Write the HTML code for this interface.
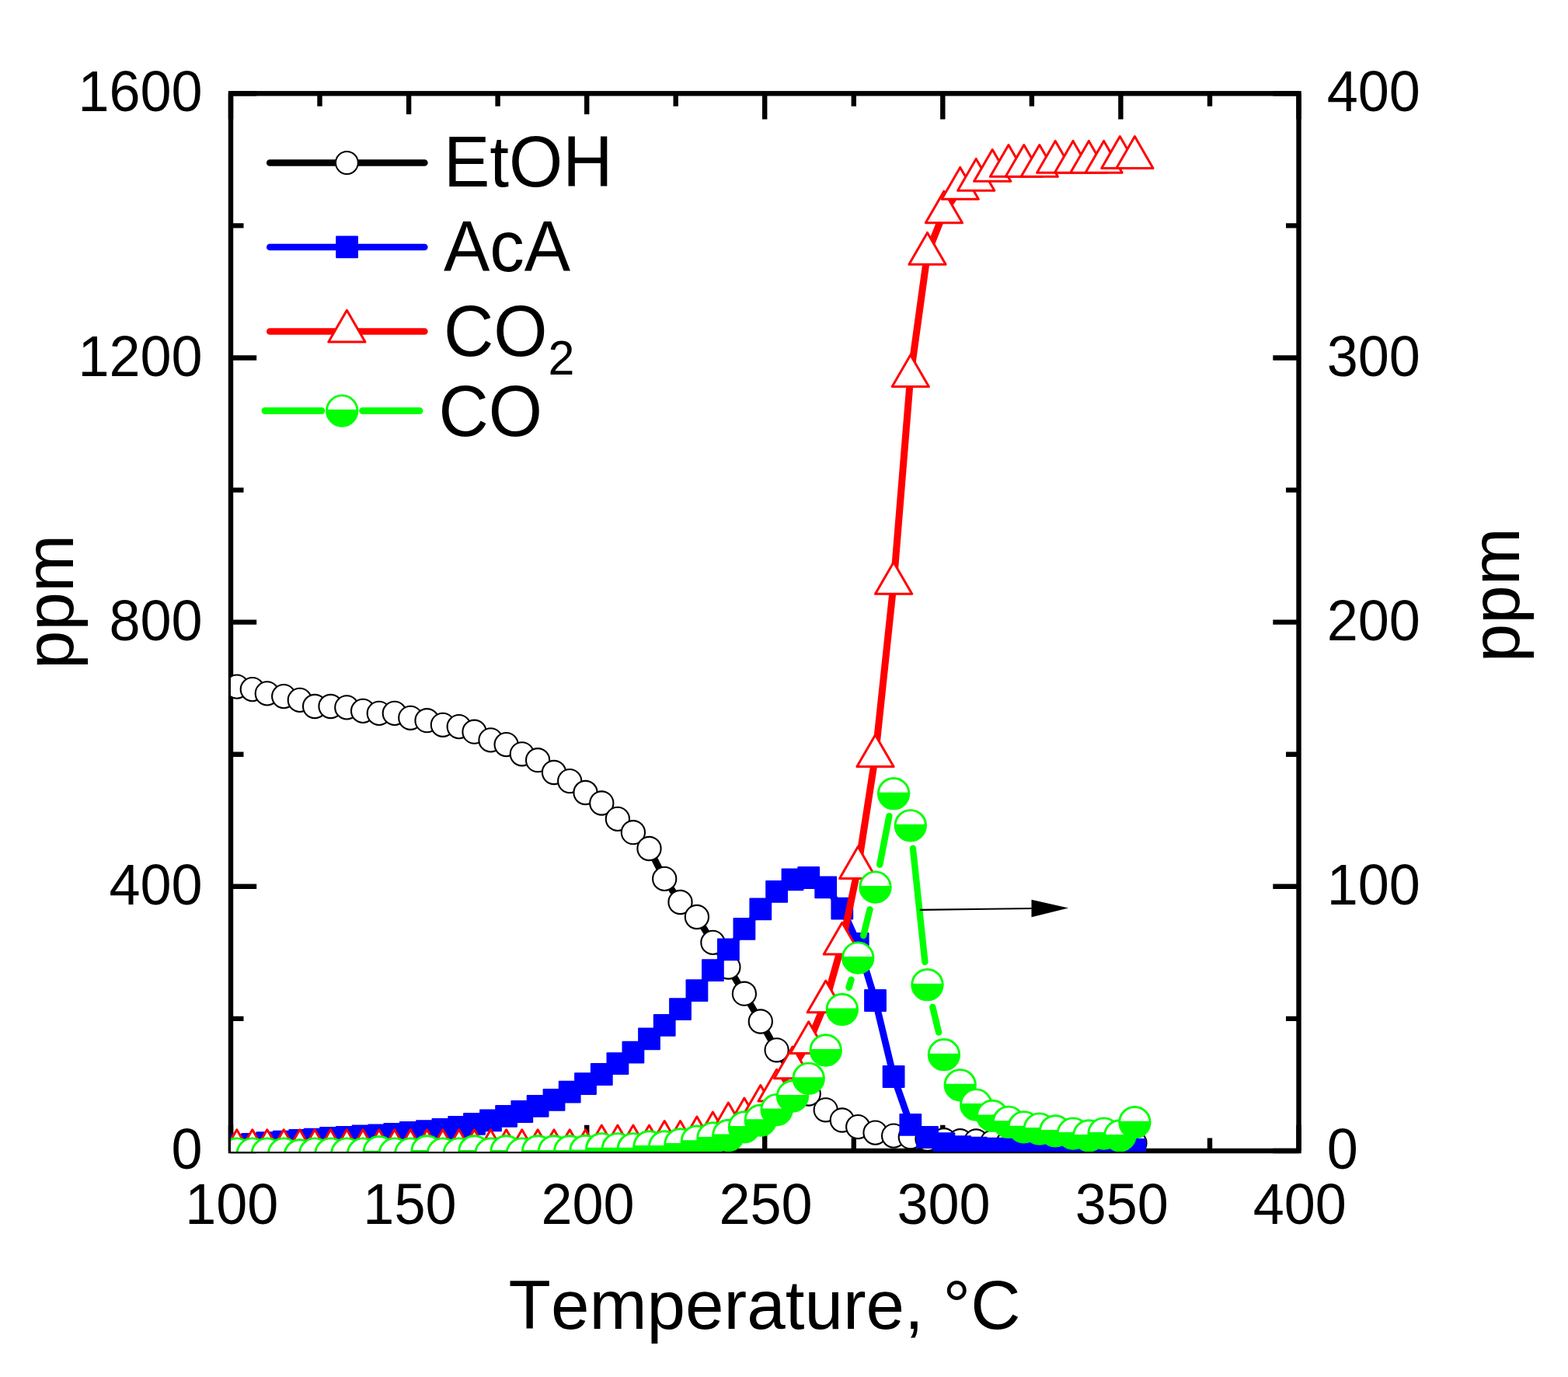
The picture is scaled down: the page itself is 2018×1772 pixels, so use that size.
<!DOCTYPE html>
<html lang="en"><head><meta charset="utf-8"><title>Temperature profile</title>
<style>html,body{margin:0;padding:0;background:#fff}body{width:2018px;height:1772px;overflow:hidden}svg{display:block}text{font-family:"Liberation Sans",sans-serif;fill:#000;font-kerning:none;font-variant-ligatures:none}</style>
</head><body>
<svg width="2018" height="1772" viewBox="0 0 2018 1772">
<rect x="0" y="0" width="2018" height="1772" fill="#fff"/>
<defs><clipPath id="plot"><rect x="297" y="117" width="1374.5" height="1365"/></clipPath></defs>
<g stroke="#000" stroke-width="6.4" fill="none" stroke-linecap="butt">
<rect x="297" y="120.3" width="1374.5" height="1360.7"/>
<path d="M297 120.3v33.2M297 1481v-33.2M411.5 120.3v16.5M411.5 1481v-16.5M526.1 120.3v33.2M526.1 1481v-33.2M640.6 120.3v16.5M640.6 1481v-16.5M755.2 120.3v33.2M755.2 1481v-33.2M869.7 120.3v16.5M869.7 1481v-16.5M984.2 120.3v33.2M984.2 1481v-33.2M1098.8 120.3v16.5M1098.8 1481v-16.5M1213.3 120.3v33.2M1213.3 1481v-33.2M1327.9 120.3v16.5M1327.9 1481v-16.5M1442.4 120.3v33.2M1442.4 1481v-33.2M1557 120.3v16.5M1557 1481v-16.5M1671.5 120.3v33.2M1671.5 1481v-33.2M297 1481h33.2M1671.5 1481h-33.2M297 1310.9h16.5M1671.5 1310.9h-16.5M297 1140.8h33.2M1671.5 1140.8h-33.2M297 970.7h16.5M1671.5 970.7h-16.5M297 800.6h33.2M1671.5 800.6h-33.2M297 630.6h16.5M1671.5 630.6h-16.5M297 460.5h33.2M1671.5 460.5h-33.2M297 290.4h16.5M1671.5 290.4h-16.5M297 120.3h33.2M1671.5 120.3h-33.2"/>
</g>
<g font-size="72.0">
<text transform="translate(298.3 1575.4) scale(1 1.04)" text-anchor="middle">100</text>
<text transform="translate(527.4 1575.4) scale(1 1.04)" text-anchor="middle">150</text>
<text transform="translate(756.5 1575.4) scale(1 1.04)" text-anchor="middle">200</text>
<text transform="translate(985.5 1575.4) scale(1 1.04)" text-anchor="middle">250</text>
<text transform="translate(1214.6 1575.4) scale(1 1.04)" text-anchor="middle">300</text>
<text transform="translate(1443.7 1575.4) scale(1 1.04)" text-anchor="middle">350</text>
<text transform="translate(1672.8 1575.4) scale(1 1.04)" text-anchor="middle">400</text>
<text transform="translate(260.6 1504) scale(1 1.04)" text-anchor="end">0</text>
<text transform="translate(260.6 1163.8) scale(1 1.04)" text-anchor="end">400</text>
<text transform="translate(260.6 823.6) scale(1 1.04)" text-anchor="end">800</text>
<text transform="translate(260.6 483.5) scale(1 1.04)" text-anchor="end">1200</text>
<text transform="translate(260.6 143.3) scale(1 1.04)" text-anchor="end">1600</text>
<text transform="translate(1707.8 1504) scale(1 1.04)" text-anchor="start">0</text>
<text transform="translate(1707.8 1163.8) scale(1 1.04)" text-anchor="start">100</text>
<text transform="translate(1707.8 823.6) scale(1 1.04)" text-anchor="start">200</text>
<text transform="translate(1707.8 483.5) scale(1 1.04)" text-anchor="start">300</text>
<text transform="translate(1707.8 143.3) scale(1 1.04)" text-anchor="start">400</text>
</g>
<g font-size="89.0">
<text x="984" y="1710.2" text-anchor="middle">Temperature, °C</text>
<text transform="translate(94.1 774.5) rotate(-90)" text-anchor="middle">ppm</text>
<text transform="translate(1955 765.7) rotate(-90)" text-anchor="middle">ppm</text>
</g>
<g clip-path="url(#plot)">
<polyline points="304.8,883.6 324.8,887.1 343.8,892.4 365.2,896.1 385.8,900.9 405.1,909 425.5,909 446.3,910.4 467.1,914.9 487.8,917.9 507.8,917.9 528.3,923.8 549.5,927.2 569.9,932.8 590.7,935.1 610.5,941.7 631.5,952.4 651.6,958.1 671.8,970.3 692.1,978.2 713,994 733.2,1005.1 753.5,1020 774.3,1033.5 794.9,1053.9 814.9,1071.2 835.5,1092 855.2,1130.9 875.5,1161 896.9,1180 917.4,1212.9 937.4,1244.5 957.9,1278.7 978.8,1314.5 999.6,1351.3 1020,1383 1040.7,1407.5 1062.7,1428.3 1083.8,1441.5 1104.2,1450.1 1126.5,1457.6 1150.1,1461.6 1171.8,1463.2 1193.5,1465.8 1214.9,1467.2 1235.7,1468.2 1256.2,1468.5 1277.2,1469.5 1298,1470 1317.8,1470 1337.8,1470.5 1358.2,1470.5 1381,1471 1401.3,1471 1420.6,1471 1441.3,1471 1460.4,1471" fill="none" stroke="#000" stroke-width="8.6" stroke-linejoin="round"/>
<g fill="#fff" stroke="#000" stroke-width="2.1">
<circle cx="304.8" cy="883.6" r="15.1"/>
<circle cx="324.8" cy="887.1" r="15.1"/>
<circle cx="343.8" cy="892.4" r="15.1"/>
<circle cx="365.2" cy="896.1" r="15.1"/>
<circle cx="385.8" cy="900.9" r="15.1"/>
<circle cx="405.1" cy="909" r="15.1"/>
<circle cx="425.5" cy="909" r="15.1"/>
<circle cx="446.3" cy="910.4" r="15.1"/>
<circle cx="467.1" cy="914.9" r="15.1"/>
<circle cx="487.8" cy="917.9" r="15.1"/>
<circle cx="507.8" cy="917.9" r="15.1"/>
<circle cx="528.3" cy="923.8" r="15.1"/>
<circle cx="549.5" cy="927.2" r="15.1"/>
<circle cx="569.9" cy="932.8" r="15.1"/>
<circle cx="590.7" cy="935.1" r="15.1"/>
<circle cx="610.5" cy="941.7" r="15.1"/>
<circle cx="631.5" cy="952.4" r="15.1"/>
<circle cx="651.6" cy="958.1" r="15.1"/>
<circle cx="671.8" cy="970.3" r="15.1"/>
<circle cx="692.1" cy="978.2" r="15.1"/>
<circle cx="713" cy="994" r="15.1"/>
<circle cx="733.2" cy="1005.1" r="15.1"/>
<circle cx="753.5" cy="1020" r="15.1"/>
<circle cx="774.3" cy="1033.5" r="15.1"/>
<circle cx="794.9" cy="1053.9" r="15.1"/>
<circle cx="814.9" cy="1071.2" r="15.1"/>
<circle cx="835.5" cy="1092" r="15.1"/>
<circle cx="855.2" cy="1130.9" r="15.1"/>
<circle cx="875.5" cy="1161" r="15.1"/>
<circle cx="896.9" cy="1180" r="15.1"/>
<circle cx="917.4" cy="1212.9" r="15.1"/>
<circle cx="937.4" cy="1244.5" r="15.1"/>
<circle cx="957.9" cy="1278.7" r="15.1"/>
<circle cx="978.8" cy="1314.5" r="15.1"/>
<circle cx="999.6" cy="1351.3" r="15.1"/>
<circle cx="1020" cy="1383" r="15.1"/>
<circle cx="1040.7" cy="1407.5" r="15.1"/>
<circle cx="1062.7" cy="1428.3" r="15.1"/>
<circle cx="1083.8" cy="1441.5" r="15.1"/>
<circle cx="1104.2" cy="1450.1" r="15.1"/>
<circle cx="1126.5" cy="1457.6" r="15.1"/>
<circle cx="1150.1" cy="1461.6" r="15.1"/>
<circle cx="1171.8" cy="1463.2" r="15.1"/>
<circle cx="1193.5" cy="1465.8" r="15.1"/>
<circle cx="1214.9" cy="1467.2" r="15.1"/>
<circle cx="1235.7" cy="1468.2" r="15.1"/>
<circle cx="1256.2" cy="1468.5" r="15.1"/>
<circle cx="1277.2" cy="1469.5" r="15.1"/>
<circle cx="1298" cy="1470" r="15.1"/>
<circle cx="1317.8" cy="1470" r="15.1"/>
<circle cx="1337.8" cy="1470.5" r="15.1"/>
<circle cx="1358.2" cy="1470.5" r="15.1"/>
<circle cx="1381" cy="1471" r="15.1"/>
<circle cx="1401.3" cy="1471" r="15.1"/>
<circle cx="1420.6" cy="1471" r="15.1"/>
<circle cx="1441.3" cy="1471" r="15.1"/>
<circle cx="1460.4" cy="1471" r="15.1"/>
</g>
<polyline points="304.8,1473.5 324.8,1472.3 343.8,1470.7 365.2,1469.1 385.8,1467.3 405.1,1466.1 425.5,1464.4 446.3,1463.4 467.1,1462 487.8,1460.8 507.8,1459.4 528.3,1457.5 549.5,1455.7 569.9,1453.4 590.7,1450.5 610.5,1446.3 631.5,1441.8 651.6,1436.3 671.8,1430.5 692.1,1423.4 713,1415.3 733.2,1405.2 753.5,1394.6 774.3,1382.5 794.9,1368.7 814.9,1354.2 835.5,1336.9 855.2,1319.4 875.5,1298.6 896.9,1274.6 917.4,1248.6 937.4,1221.9 957.9,1195.3 978.8,1169.8 999.6,1147.3 1020,1131.8 1040.7,1129.5 1062.7,1141.8 1083.8,1169.1 1104.2,1214.5 1126.5,1287.5 1150.1,1385.5 1171.8,1447.4 1193.5,1463.5 1214.9,1471.7 1235.7,1475.7 1256.2,1477.2 1277.2,1478.2 1298,1478.7 1317.8,1478.7 1337.8,1478.7 1358.2,1478.7 1381,1478.8 1401.3,1478.8 1420.6,1478.9 1441.3,1479 1460.4,1479.4" fill="none" stroke="#00f" stroke-width="8.8" stroke-linejoin="round"/>
<g fill="#00f">
<rect x="290.4" y="1459.1" width="28.8" height="28.8" rx="1"/>
<rect x="310.4" y="1457.9" width="28.8" height="28.8" rx="1"/>
<rect x="329.4" y="1456.3" width="28.8" height="28.8" rx="1"/>
<rect x="350.8" y="1454.7" width="28.8" height="28.8" rx="1"/>
<rect x="371.4" y="1452.9" width="28.8" height="28.8" rx="1"/>
<rect x="390.7" y="1451.7" width="28.8" height="28.8" rx="1"/>
<rect x="411.1" y="1450" width="28.8" height="28.8" rx="1"/>
<rect x="431.9" y="1449" width="28.8" height="28.8" rx="1"/>
<rect x="452.7" y="1447.6" width="28.8" height="28.8" rx="1"/>
<rect x="473.4" y="1446.4" width="28.8" height="28.8" rx="1"/>
<rect x="493.4" y="1445" width="28.8" height="28.8" rx="1"/>
<rect x="513.9" y="1443.1" width="28.8" height="28.8" rx="1"/>
<rect x="535.1" y="1441.3" width="28.8" height="28.8" rx="1"/>
<rect x="555.5" y="1439" width="28.8" height="28.8" rx="1"/>
<rect x="576.3" y="1436.1" width="28.8" height="28.8" rx="1"/>
<rect x="596.1" y="1431.9" width="28.8" height="28.8" rx="1"/>
<rect x="617.1" y="1427.4" width="28.8" height="28.8" rx="1"/>
<rect x="637.2" y="1421.9" width="28.8" height="28.8" rx="1"/>
<rect x="657.4" y="1416.1" width="28.8" height="28.8" rx="1"/>
<rect x="677.7" y="1409" width="28.8" height="28.8" rx="1"/>
<rect x="698.6" y="1400.9" width="28.8" height="28.8" rx="1"/>
<rect x="718.8" y="1390.8" width="28.8" height="28.8" rx="1"/>
<rect x="739.1" y="1380.2" width="28.8" height="28.8" rx="1"/>
<rect x="759.9" y="1368.1" width="28.8" height="28.8" rx="1"/>
<rect x="780.5" y="1354.3" width="28.8" height="28.8" rx="1"/>
<rect x="800.5" y="1339.8" width="28.8" height="28.8" rx="1"/>
<rect x="821.1" y="1322.5" width="28.8" height="28.8" rx="1"/>
<rect x="840.8" y="1305" width="28.8" height="28.8" rx="1"/>
<rect x="861.1" y="1284.2" width="28.8" height="28.8" rx="1"/>
<rect x="882.5" y="1260.2" width="28.8" height="28.8" rx="1"/>
<rect x="903" y="1234.2" width="28.8" height="28.8" rx="1"/>
<rect x="923" y="1207.5" width="28.8" height="28.8" rx="1"/>
<rect x="943.5" y="1180.9" width="28.8" height="28.8" rx="1"/>
<rect x="964.4" y="1155.4" width="28.8" height="28.8" rx="1"/>
<rect x="985.2" y="1132.9" width="28.8" height="28.8" rx="1"/>
<rect x="1005.6" y="1117.4" width="28.8" height="28.8" rx="1"/>
<rect x="1026.3" y="1115.1" width="28.8" height="28.8" rx="1"/>
<rect x="1048.3" y="1127.4" width="28.8" height="28.8" rx="1"/>
<rect x="1069.4" y="1154.7" width="28.8" height="28.8" rx="1"/>
<rect x="1089.8" y="1200.1" width="28.8" height="28.8" rx="1"/>
<rect x="1112.1" y="1273.1" width="28.8" height="28.8" rx="1"/>
<rect x="1135.7" y="1371.1" width="28.8" height="28.8" rx="1"/>
<rect x="1157.4" y="1433" width="28.8" height="28.8" rx="1"/>
<rect x="1179.1" y="1449.1" width="28.8" height="28.8" rx="1"/>
<rect x="1200.5" y="1457.3" width="28.8" height="28.8" rx="1"/>
<rect x="1221.3" y="1461.3" width="28.8" height="28.8" rx="1"/>
<rect x="1241.8" y="1462.8" width="28.8" height="28.8" rx="1"/>
<rect x="1262.8" y="1463.8" width="28.8" height="28.8" rx="1"/>
<rect x="1283.6" y="1464.3" width="28.8" height="28.8" rx="1"/>
<rect x="1303.4" y="1464.3" width="28.8" height="28.8" rx="1"/>
<rect x="1323.4" y="1464.3" width="28.8" height="28.8" rx="1"/>
<rect x="1343.8" y="1464.3" width="28.8" height="28.8" rx="1"/>
<rect x="1366.6" y="1464.4" width="28.8" height="28.8" rx="1"/>
<rect x="1386.9" y="1464.4" width="28.8" height="28.8" rx="1"/>
<rect x="1406.2" y="1464.5" width="28.8" height="28.8" rx="1"/>
<rect x="1426.9" y="1464.6" width="28.8" height="28.8" rx="1"/>
<rect x="1446" y="1465" width="28.8" height="28.8" rx="1"/>
</g>
<polyline points="304.8,1481 324.8,1481 343.8,1481 365.2,1481 385.8,1481 405.1,1481 425.5,1481 446.3,1481 467.1,1481 487.8,1481 507.8,1481 528.3,1481 549.5,1481 569.9,1481 590.7,1481 610.5,1481 631.5,1481 651.6,1481 671.8,1481 692.1,1481 713,1481 733.2,1481 753.5,1481 774.3,1475.2 794.9,1475.2 814.9,1475.2 835.5,1475.2 855.2,1469.7 875.5,1469.7 896.9,1464.3 917.4,1458.3 937.4,1446.3 957.9,1440.3 978.8,1423.7 999.6,1403.4 1020,1374.2 1040.7,1342 1062.7,1289.2 1083.8,1214.5 1104.2,1116.8 1126.5,973 1150.1,750.7 1171.8,484 1193.5,326.6 1214.9,273.2 1235.7,242.6 1256.2,231.6 1277.2,219.7 1298,213.7 1317.8,213.7 1337.8,213.7 1358.2,208.6 1381,208.6 1401.3,208.6 1420.6,208.6 1441.3,202.8 1460.4,202.8" fill="none" stroke="#f00" stroke-width="9" stroke-linejoin="round"/>
<g fill="#fff" stroke="#f00" stroke-width="3" stroke-linejoin="round">
<path d="M304.8 1453.8L328.4 1494.6L281.2 1494.6Z"/>
<path d="M324.8 1453.8L348.4 1494.6L301.2 1494.6Z"/>
<path d="M343.8 1453.8L367.4 1494.6L320.2 1494.6Z"/>
<path d="M365.2 1453.8L388.8 1494.6L341.6 1494.6Z"/>
<path d="M385.8 1453.8L409.4 1494.6L362.2 1494.6Z"/>
<path d="M405.1 1453.8L428.7 1494.6L381.5 1494.6Z"/>
<path d="M425.5 1453.8L449.1 1494.6L401.9 1494.6Z"/>
<path d="M446.3 1453.8L469.9 1494.6L422.7 1494.6Z"/>
<path d="M467.1 1453.8L490.7 1494.6L443.5 1494.6Z"/>
<path d="M487.8 1453.8L511.4 1494.6L464.2 1494.6Z"/>
<path d="M507.8 1453.8L531.4 1494.6L484.2 1494.6Z"/>
<path d="M528.3 1453.8L551.9 1494.6L504.7 1494.6Z"/>
<path d="M549.5 1453.8L573.1 1494.6L525.9 1494.6Z"/>
<path d="M569.9 1453.8L593.5 1494.6L546.3 1494.6Z"/>
<path d="M590.7 1453.8L614.3 1494.6L567.1 1494.6Z"/>
<path d="M610.5 1453.8L634.1 1494.6L586.9 1494.6Z"/>
<path d="M631.5 1453.8L655.1 1494.6L607.9 1494.6Z"/>
<path d="M651.6 1453.8L675.2 1494.6L628 1494.6Z"/>
<path d="M671.8 1453.8L695.4 1494.6L648.2 1494.6Z"/>
<path d="M692.1 1453.8L715.7 1494.6L668.5 1494.6Z"/>
<path d="M713 1453.8L736.6 1494.6L689.4 1494.6Z"/>
<path d="M733.2 1453.8L756.8 1494.6L709.6 1494.6Z"/>
<path d="M753.5 1453.8L777.1 1494.6L729.9 1494.6Z"/>
<path d="M774.3 1448L797.9 1488.8L750.7 1488.8Z"/>
<path d="M794.9 1448L818.5 1488.8L771.3 1488.8Z"/>
<path d="M814.9 1448L838.5 1488.8L791.3 1488.8Z"/>
<path d="M835.5 1448L859.1 1488.8L811.9 1488.8Z"/>
<path d="M855.2 1442.5L878.8 1483.3L831.6 1483.3Z"/>
<path d="M875.5 1442.5L899.1 1483.3L851.9 1483.3Z"/>
<path d="M896.9 1437.1L920.5 1477.9L873.3 1477.9Z"/>
<path d="M917.4 1431.1L941 1471.9L893.8 1471.9Z"/>
<path d="M937.4 1419.1L961 1459.9L913.8 1459.9Z"/>
<path d="M957.9 1413.1L981.5 1453.9L934.3 1453.9Z"/>
<path d="M978.8 1396.5L1002.4 1437.3L955.2 1437.3Z"/>
<path d="M999.6 1376.2L1023.2 1417L976 1417Z"/>
<path d="M1020 1347L1043.6 1387.8L996.4 1387.8Z"/>
<path d="M1040.7 1314.8L1064.3 1355.6L1017.1 1355.6Z"/>
<path d="M1062.7 1262L1086.3 1302.8L1039.1 1302.8Z"/>
<path d="M1083.8 1187.3L1107.4 1228.1L1060.2 1228.1Z"/>
<path d="M1104.2 1089.6L1127.8 1130.4L1080.6 1130.4Z"/>
<path d="M1126.5 945.8L1150.1 986.6L1102.9 986.6Z"/>
<path d="M1150.1 723.5L1173.7 764.3L1126.5 764.3Z"/>
<path d="M1171.8 456.8L1195.4 497.6L1148.2 497.6Z"/>
<path d="M1193.5 299.4L1217.1 340.2L1169.9 340.2Z"/>
<path d="M1214.9 246L1238.5 286.8L1191.3 286.8Z"/>
<path d="M1235.7 215.4L1259.3 256.2L1212.1 256.2Z"/>
<path d="M1256.2 204.4L1279.8 245.2L1232.6 245.2Z"/>
<path d="M1277.2 192.5L1300.8 233.3L1253.6 233.3Z"/>
<path d="M1298 186.5L1321.6 227.3L1274.4 227.3Z"/>
<path d="M1317.8 186.5L1341.4 227.3L1294.2 227.3Z"/>
<path d="M1337.8 186.5L1361.4 227.3L1314.2 227.3Z"/>
<path d="M1358.2 181.4L1381.8 222.2L1334.6 222.2Z"/>
<path d="M1381 181.4L1404.6 222.2L1357.4 222.2Z"/>
<path d="M1401.3 181.4L1424.9 222.2L1377.7 222.2Z"/>
<path d="M1420.6 181.4L1444.2 222.2L1397 222.2Z"/>
<path d="M1441.3 175.6L1464.9 216.4L1417.7 216.4Z"/>
<path d="M1460.4 175.6L1484 216.4L1436.8 216.4Z"/>
</g>
<path d="M1092.5 1270.8L1095.5 1260.8M1111.2 1203.9L1119.5 1170.3M1132.2 1112.7L1144.4 1050.1M1174.9 1091.6L1190.4 1237.9M1200.3 1295.9L1208.1 1328.5" fill="none" stroke="#0f0" stroke-width="8.4" stroke-linecap="round"/>
<circle cx="304.8" cy="1484.6" r="19.7" fill="#fff" stroke="#0f0" stroke-width="2.9"/><path d="M285.2 1483.1A19.7 19.7 0 1 0 324.4 1483.1Z" fill="#0f0"/>
<circle cx="324.8" cy="1484.6" r="19.7" fill="#fff" stroke="#0f0" stroke-width="2.9"/><path d="M305.2 1483.1A19.7 19.7 0 1 0 344.4 1483.1Z" fill="#0f0"/>
<circle cx="343.8" cy="1484.6" r="19.7" fill="#fff" stroke="#0f0" stroke-width="2.9"/><path d="M324.2 1483.1A19.7 19.7 0 1 0 363.4 1483.1Z" fill="#0f0"/>
<circle cx="365.2" cy="1484.6" r="19.7" fill="#fff" stroke="#0f0" stroke-width="2.9"/><path d="M345.6 1483.1A19.7 19.7 0 1 0 384.8 1483.1Z" fill="#0f0"/>
<circle cx="385.8" cy="1486.4" r="19.7" fill="#fff" stroke="#0f0" stroke-width="2.9"/><path d="M366.2 1484.9A19.7 19.7 0 1 0 405.4 1484.9Z" fill="#0f0"/>
<circle cx="405.1" cy="1484.6" r="19.7" fill="#fff" stroke="#0f0" stroke-width="2.9"/><path d="M385.5 1483.1A19.7 19.7 0 1 0 424.7 1483.1Z" fill="#0f0"/>
<circle cx="425.5" cy="1484.6" r="19.7" fill="#fff" stroke="#0f0" stroke-width="2.9"/><path d="M405.9 1483.1A19.7 19.7 0 1 0 445.1 1483.1Z" fill="#0f0"/>
<circle cx="446.3" cy="1484.6" r="19.7" fill="#fff" stroke="#0f0" stroke-width="2.9"/><path d="M426.7 1483.1A19.7 19.7 0 1 0 465.9 1483.1Z" fill="#0f0"/>
<circle cx="467.1" cy="1484.6" r="19.7" fill="#fff" stroke="#0f0" stroke-width="2.9"/><path d="M447.5 1483.1A19.7 19.7 0 1 0 486.7 1483.1Z" fill="#0f0"/>
<circle cx="487.8" cy="1482.2" r="19.7" fill="#fff" stroke="#0f0" stroke-width="2.9"/><path d="M468.2 1480.7A19.7 19.7 0 1 0 507.4 1480.7Z" fill="#0f0"/>
<circle cx="507.8" cy="1484.6" r="19.7" fill="#fff" stroke="#0f0" stroke-width="2.9"/><path d="M488.2 1483.1A19.7 19.7 0 1 0 527.4 1483.1Z" fill="#0f0"/>
<circle cx="528.3" cy="1484.6" r="19.7" fill="#fff" stroke="#0f0" stroke-width="2.9"/><path d="M508.7 1483.1A19.7 19.7 0 1 0 547.9 1483.1Z" fill="#0f0"/>
<circle cx="549.5" cy="1481.4" r="19.7" fill="#fff" stroke="#0f0" stroke-width="2.9"/><path d="M529.9 1479.9A19.7 19.7 0 1 0 569.1 1479.9Z" fill="#0f0"/>
<circle cx="569.9" cy="1484.6" r="19.7" fill="#fff" stroke="#0f0" stroke-width="2.9"/><path d="M550.3 1483.1A19.7 19.7 0 1 0 589.5 1483.1Z" fill="#0f0"/>
<circle cx="590.7" cy="1484.6" r="19.7" fill="#fff" stroke="#0f0" stroke-width="2.9"/><path d="M571.1 1483.1A19.7 19.7 0 1 0 610.3 1483.1Z" fill="#0f0"/>
<circle cx="610.5" cy="1481.4" r="19.7" fill="#fff" stroke="#0f0" stroke-width="2.9"/><path d="M590.9 1479.9A19.7 19.7 0 1 0 630.1 1479.9Z" fill="#0f0"/>
<circle cx="631.5" cy="1484.6" r="19.7" fill="#fff" stroke="#0f0" stroke-width="2.9"/><path d="M611.9 1483.1A19.7 19.7 0 1 0 651.1 1483.1Z" fill="#0f0"/>
<circle cx="651.6" cy="1481.4" r="19.7" fill="#fff" stroke="#0f0" stroke-width="2.9"/><path d="M632 1479.9A19.7 19.7 0 1 0 671.2 1479.9Z" fill="#0f0"/>
<circle cx="671.8" cy="1484.6" r="19.7" fill="#fff" stroke="#0f0" stroke-width="2.9"/><path d="M652.2 1483.1A19.7 19.7 0 1 0 691.4 1483.1Z" fill="#0f0"/>
<circle cx="692.1" cy="1481.4" r="19.7" fill="#fff" stroke="#0f0" stroke-width="2.9"/><path d="M672.5 1479.9A19.7 19.7 0 1 0 711.7 1479.9Z" fill="#0f0"/>
<circle cx="713" cy="1481.4" r="19.7" fill="#fff" stroke="#0f0" stroke-width="2.9"/><path d="M693.4 1479.9A19.7 19.7 0 1 0 732.6 1479.9Z" fill="#0f0"/>
<circle cx="733.2" cy="1481.4" r="19.7" fill="#fff" stroke="#0f0" stroke-width="2.9"/><path d="M713.6 1479.9A19.7 19.7 0 1 0 752.8 1479.9Z" fill="#0f0"/>
<circle cx="753.5" cy="1481" r="19.7" fill="#fff" stroke="#0f0" stroke-width="2.9"/><path d="M733.9 1479.5A19.7 19.7 0 1 0 773.1 1479.5Z" fill="#0f0"/>
<circle cx="774.3" cy="1478.3" r="19.7" fill="#fff" stroke="#0f0" stroke-width="2.9"/><path d="M754.7 1476.8A19.7 19.7 0 1 0 793.9 1476.8Z" fill="#0f0"/>
<circle cx="794.9" cy="1478.3" r="19.7" fill="#fff" stroke="#0f0" stroke-width="2.9"/><path d="M775.3 1476.8A19.7 19.7 0 1 0 814.5 1476.8Z" fill="#0f0"/>
<circle cx="814.9" cy="1478.3" r="19.7" fill="#fff" stroke="#0f0" stroke-width="2.9"/><path d="M795.3 1476.8A19.7 19.7 0 1 0 834.5 1476.8Z" fill="#0f0"/>
<circle cx="835.5" cy="1475.5" r="19.7" fill="#fff" stroke="#0f0" stroke-width="2.9"/><path d="M815.9 1474A19.7 19.7 0 1 0 855.1 1474Z" fill="#0f0"/>
<circle cx="855.2" cy="1475.5" r="19.7" fill="#fff" stroke="#0f0" stroke-width="2.9"/><path d="M835.6 1474A19.7 19.7 0 1 0 874.8 1474Z" fill="#0f0"/>
<circle cx="875.5" cy="1472.5" r="19.7" fill="#fff" stroke="#0f0" stroke-width="2.9"/><path d="M855.9 1471A19.7 19.7 0 1 0 895.1 1471Z" fill="#0f0"/>
<circle cx="896.9" cy="1468.7" r="19.7" fill="#fff" stroke="#0f0" stroke-width="2.9"/><path d="M877.3 1467.2A19.7 19.7 0 1 0 916.5 1467.2Z" fill="#0f0"/>
<circle cx="917.4" cy="1464.5" r="19.7" fill="#fff" stroke="#0f0" stroke-width="2.9"/><path d="M897.8 1463A19.7 19.7 0 1 0 937 1463Z" fill="#0f0"/>
<circle cx="937.4" cy="1461" r="19.7" fill="#fff" stroke="#0f0" stroke-width="2.9"/><path d="M917.8 1459.5A19.7 19.7 0 1 0 957 1459.5Z" fill="#0f0"/>
<circle cx="957.9" cy="1450.4" r="19.7" fill="#fff" stroke="#0f0" stroke-width="2.9"/><path d="M938.3 1448.9A19.7 19.7 0 1 0 977.5 1448.9Z" fill="#0f0"/>
<circle cx="978.8" cy="1441.7" r="19.7" fill="#fff" stroke="#0f0" stroke-width="2.9"/><path d="M959.2 1440.2A19.7 19.7 0 1 0 998.4 1440.2Z" fill="#0f0"/>
<circle cx="999.6" cy="1428.1" r="19.7" fill="#fff" stroke="#0f0" stroke-width="2.9"/><path d="M980 1426.6A19.7 19.7 0 1 0 1019.2 1426.6Z" fill="#0f0"/>
<circle cx="1020" cy="1410.6" r="19.7" fill="#fff" stroke="#0f0" stroke-width="2.9"/><path d="M1000.4 1409.1A19.7 19.7 0 1 0 1039.6 1409.1Z" fill="#0f0"/>
<circle cx="1040.7" cy="1387.8" r="19.7" fill="#fff" stroke="#0f0" stroke-width="2.9"/><path d="M1021.1 1386.3A19.7 19.7 0 1 0 1060.3 1386.3Z" fill="#0f0"/>
<circle cx="1062.7" cy="1351.5" r="19.7" fill="#fff" stroke="#0f0" stroke-width="2.9"/><path d="M1043.1 1350A19.7 19.7 0 1 0 1082.3 1350Z" fill="#0f0"/>
<circle cx="1083.8" cy="1299" r="19.7" fill="#fff" stroke="#0f0" stroke-width="2.9"/><path d="M1064.2 1297.5A19.7 19.7 0 1 0 1103.4 1297.5Z" fill="#0f0"/>
<circle cx="1104.2" cy="1232.6" r="19.7" fill="#fff" stroke="#0f0" stroke-width="2.9"/><path d="M1084.6 1231.1A19.7 19.7 0 1 0 1123.8 1231.1Z" fill="#0f0"/>
<circle cx="1126.5" cy="1141.6" r="19.7" fill="#fff" stroke="#0f0" stroke-width="2.9"/><path d="M1106.9 1140.1A19.7 19.7 0 1 0 1146.1 1140.1Z" fill="#0f0"/>
<circle cx="1150.1" cy="1021.2" r="19.7" fill="#fff" stroke="#0f0" stroke-width="2.9"/><path d="M1130.5 1019.7A19.7 19.7 0 1 0 1169.7 1019.7Z" fill="#0f0"/>
<circle cx="1171.8" cy="1062.3" r="19.7" fill="#fff" stroke="#0f0" stroke-width="2.9"/><path d="M1152.2 1060.8A19.7 19.7 0 1 0 1191.4 1060.8Z" fill="#0f0"/>
<circle cx="1193.5" cy="1267.2" r="19.7" fill="#fff" stroke="#0f0" stroke-width="2.9"/><path d="M1173.9 1265.7A19.7 19.7 0 1 0 1213.1 1265.7Z" fill="#0f0"/>
<circle cx="1214.9" cy="1357.2" r="19.7" fill="#fff" stroke="#0f0" stroke-width="2.9"/><path d="M1195.3 1355.7A19.7 19.7 0 1 0 1234.5 1355.7Z" fill="#0f0"/>
<circle cx="1235.7" cy="1396.3" r="19.7" fill="#fff" stroke="#0f0" stroke-width="2.9"/><path d="M1216.1 1394.8A19.7 19.7 0 1 0 1255.3 1394.8Z" fill="#0f0"/>
<circle cx="1256.2" cy="1421.6" r="19.7" fill="#fff" stroke="#0f0" stroke-width="2.9"/><path d="M1236.6 1420.1A19.7 19.7 0 1 0 1275.8 1420.1Z" fill="#0f0"/>
<circle cx="1277.2" cy="1435.9" r="19.7" fill="#fff" stroke="#0f0" stroke-width="2.9"/><path d="M1257.6 1434.4A19.7 19.7 0 1 0 1296.8 1434.4Z" fill="#0f0"/>
<circle cx="1298" cy="1443.8" r="19.7" fill="#fff" stroke="#0f0" stroke-width="2.9"/><path d="M1278.4 1442.3A19.7 19.7 0 1 0 1317.6 1442.3Z" fill="#0f0"/>
<circle cx="1317.8" cy="1450.3" r="19.7" fill="#fff" stroke="#0f0" stroke-width="2.9"/><path d="M1298.2 1448.8A19.7 19.7 0 1 0 1337.4 1448.8Z" fill="#0f0"/>
<circle cx="1337.8" cy="1452.6" r="19.7" fill="#fff" stroke="#0f0" stroke-width="2.9"/><path d="M1318.2 1451.1A19.7 19.7 0 1 0 1357.4 1451.1Z" fill="#0f0"/>
<circle cx="1358.2" cy="1455.4" r="19.7" fill="#fff" stroke="#0f0" stroke-width="2.9"/><path d="M1338.6 1453.9A19.7 19.7 0 1 0 1377.8 1453.9Z" fill="#0f0"/>
<circle cx="1381" cy="1458.6" r="19.7" fill="#fff" stroke="#0f0" stroke-width="2.9"/><path d="M1361.4 1457.1A19.7 19.7 0 1 0 1400.6 1457.1Z" fill="#0f0"/>
<circle cx="1401.3" cy="1461.4" r="19.7" fill="#fff" stroke="#0f0" stroke-width="2.9"/><path d="M1381.7 1459.9A19.7 19.7 0 1 0 1420.9 1459.9Z" fill="#0f0"/>
<circle cx="1420.6" cy="1458.6" r="19.7" fill="#fff" stroke="#0f0" stroke-width="2.9"/><path d="M1401 1457.1A19.7 19.7 0 1 0 1440.2 1457.1Z" fill="#0f0"/>
<circle cx="1441.3" cy="1461.4" r="19.7" fill="#fff" stroke="#0f0" stroke-width="2.9"/><path d="M1421.7 1459.9A19.7 19.7 0 1 0 1460.9 1459.9Z" fill="#0f0"/>
<circle cx="1460.4" cy="1444.2" r="19.7" fill="#fff" stroke="#0f0" stroke-width="2.9"/><path d="M1440.8 1442.7A19.7 19.7 0 1 0 1480 1442.7Z" fill="#0f0"/>
</g>
<path d="M1183.8 1170.9L1330 1169" stroke="#000" stroke-width="2.1" fill="none"/>
<path d="M1375 1168.4L1327.5 1157.8L1327.5 1180.3Z" fill="#000"/>
<rect x="335" y="147.1" width="470" height="445" fill="#fff"/>
<g stroke-width="8.7" stroke-linecap="round" fill="none">
<path d="M347.3 209.5H546.3" stroke="#000"/>
<path d="M347.3 318H546.3" stroke="#00f"/>
<path d="M347.3 426.5H546.3" stroke="#f00"/>
<path d="M340.9 528.6H414M466.5 528.6H540.1" stroke="#0f0"/>
</g>
<circle cx="446.4" cy="209.5" r="14.4" fill="#fff" stroke="#000" stroke-width="2"/>
<rect x="432.2" y="303.4" width="28.8" height="28.8" rx="1" fill="#00f"/>
<path d="M446.4 399.3L470 440.1L422.8 440.1Z" fill="#fff" stroke="#f00" stroke-width="3" stroke-linejoin="round"/>
<circle cx="440.2" cy="528.6" r="19.7" fill="#fff" stroke="#0f0" stroke-width="2.9"/><path d="M420.6 527.1A19.7 19.7 0 1 0 459.8 527.1Z" fill="#0f0"/>
<g font-size="89.0">
<text transform="translate(571 240) scale(1 1.04)">EtOH</text>
<text transform="translate(571 349) scale(1 1.04)">AcA</text>
<text transform="translate(571 458.2) scale(1 1.04)">CO<tspan font-size="61.0" dx="1" dy="22.6">2</tspan></text>
<text transform="translate(564.5 560.5) scale(1 1.04)">CO</text>
</g>
</svg>
</body></html>
